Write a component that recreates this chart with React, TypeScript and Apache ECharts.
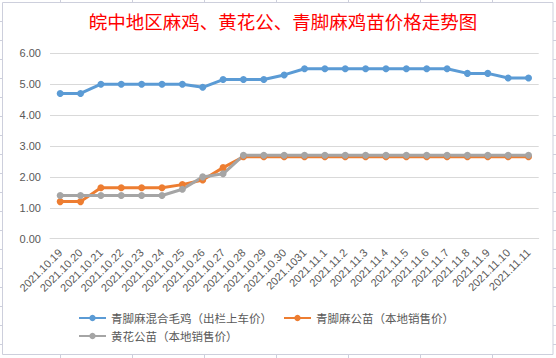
import React, { useEffect, useRef } from "react";
import * as echarts from "echarts";

const categories = [
  "2021.10.19", "2021.10.20", "2021.10.21", "2021.10.22", "2021.10.23", "2021.10.24",
  "2021.10.25", "2021.10.26", "2021.10.27", "2021.10.28", "2021.10.29", "2021.10.30",
  "2021.1031", "2021.11.1", "2021.11.2", "2021.11.3", "2021.11.4", "2021.11.5",
  "2021.11.6", "2021.11.7", "2021.11.8", "2021.11.9", "2021.11.10", "2021.11.11",
];

const mixedChicken = [
  4.7, 4.7, 5.0, 5.0, 5.0, 5.0, 5.0, 4.9, 5.15, 5.15, 5.15, 5.3,
  5.5, 5.5, 5.5, 5.5, 5.5, 5.5, 5.5, 5.5, 5.35, 5.35, 5.2, 5.2,
];
const maleChick = [
  1.2, 1.2, 1.65, 1.65, 1.65, 1.65, 1.75, 1.9, 2.3, 2.65, 2.65, 2.65,
  2.65, 2.65, 2.65, 2.65, 2.65, 2.65, 2.65, 2.65, 2.65, 2.65, 2.65, 2.65,
];
const yellowChick = [
  1.4, 1.4, 1.4, 1.4, 1.4, 1.4, 1.6, 2.0, 2.1, 2.7, 2.7, 2.7,
  2.7, 2.7, 2.7, 2.7, 2.7, 2.7, 2.7, 2.7, 2.7, 2.7, 2.7, 2.7,
];

const seriesNames = [
  "青脚麻混合毛鸡（出栏上车价）",
  "青脚麻公苗（本地销售价）",
  "黄花公苗（本地销售价）",
];
const titleText = "皖中地区麻鸡、黄花公、青脚麻鸡苗价格走势图";

const colTicks = [60, 132, 204, 276, 348, 420, 492];
const rowTicks = Array.from({ length: 18 }, (_, k) => 20.7 + 19.02 * k);

export default function App() {
  const ref = useRef<HTMLDivElement>(null);
  useEffect(() => {
    if (!ref.current) return;
    const chart = echarts.init(ref.current, null, { renderer: "svg" });
    const sheetColor = "#cdcfdc";
    const graphics: any[] = [
      {
        type: "rect",
        shape: { x: 2.5, y: 2.5, width: 550.5, height: 352 },
        style: { fill: "none", stroke: sheetColor, lineWidth: 1 },
        silent: true,
      },
    ];
    colTicks.forEach((x) => {
      graphics.push({ type: "line", shape: { x1: x + 0.5, y1: 0, x2: x + 0.5, y2: 2 }, style: { stroke: sheetColor, lineWidth: 1 }, silent: true });
      graphics.push({ type: "line", shape: { x1: x + 0.5, y1: 355, x2: x + 0.5, y2: 358 }, style: { stroke: sheetColor, lineWidth: 1 }, silent: true });
    });
    rowTicks.forEach((y) => {
      const yy = Math.round(y) + 0.5;
      graphics.push({ type: "line", shape: { x1: 0, y1: yy, x2: 2, y2: yy }, style: { stroke: sheetColor, lineWidth: 1 }, silent: true });
      graphics.push({ type: "line", shape: { x1: 553, y1: yy, x2: 556, y2: yy }, style: { stroke: sheetColor, lineWidth: 1 }, silent: true });
    });

    const colors = ["#5B9BD5", "#ED7D31", "#A5A5A5"];
    const dataSets = [mixedChicken, maleChick, yellowChick];
    const legendText = {
      color: "#595959",
      fontSize: 11.5,
      fontFamily: "Noto Sans CJK SC",
      lineHeight: 14,
    };
    chart.setOption({
      animation: false,
      backgroundColor: "#ffffff",
      title: {
        text: titleText,
        left: 278,
        textAlign: "center",
        top: 7,
        textStyle: {
          color: "#ff0000",
          fontSize: 18.5,
          fontWeight: "normal",
          fontFamily: "Noto Sans CJK SC",
        },
      },
      graphic: graphics,
      legend: [
        {
          data: [seriesNames[0], seriesNames[1]],
          left: 78,
          top: 311,
          padding: 0,
          itemWidth: 27,
          itemHeight: 8,
          itemGap: 11,
          textStyle: legendText,
        },
        {
          data: [seriesNames[2]],
          left: 78,
          top: 329,
          padding: 0,
          itemWidth: 27,
          itemHeight: 8,
          itemGap: 11,
          textStyle: legendText,
        },
      ],
      grid: { left: 50, right: 17.3, top: 53.3, bottom: 119.3, containLabel: false },
      xAxis: {
        type: "category",
        data: categories,
        boundaryGap: true,
        axisLine: { show: true, lineStyle: { color: "#d9d9d9", width: 1 } },
        axisTick: { show: false },
        axisLabel: {
          rotate: 45,
          interval: 0,
          margin: 12,
          color: "#595959",
          fontSize: 11,
          fontFamily: "Liberation Sans",
        },
      },
      yAxis: {
        type: "value",
        min: 0,
        max: 6,
        interval: 1,
        axisLine: { show: false },
        axisTick: { show: false },
        splitLine: { lineStyle: { color: "#d9d9d9", width: 1 } },
        axisLabel: {
          formatter: (v: number) => v.toFixed(2),
          color: "#595959",
          fontSize: 11,
          margin: 9,
          fontFamily: "Liberation Sans",
        },
      },
      series: seriesNames.map((name, i) => ({
        name,
        type: "line",
        data: dataSets[i],
        symbol: "circle",
        symbolSize: 7,
        showSymbol: true,
        color: colors[i],
        lineStyle: { width: 3, color: colors[i] },
        itemStyle: { color: colors[i] },
      })),
    });
    return () => chart.dispose();
  }, []);
  return <div ref={ref} style={{ width: 556, height: 358, position: "absolute", left: 0, top: 0 }} />;
}
